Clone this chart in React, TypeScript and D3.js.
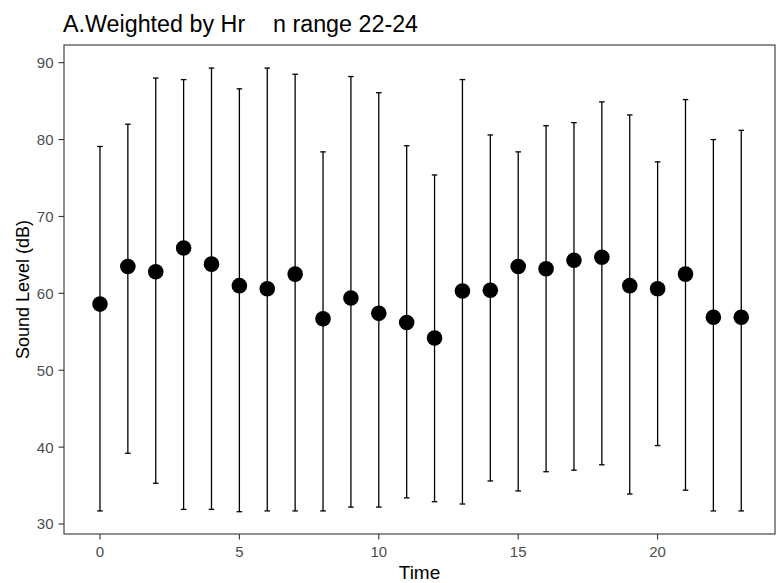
import React from "react";
import * as d3 from "d3";

const hours = [0,1,2,3,4,5,6,7,8,9,10,11,12,13,14,15,16,17,18,19,20,21,22,23];
const means = [58.6,63.5,62.8,65.9,63.8,61.0,60.6,62.5,56.7,59.4,57.4,56.2,54.2,60.3,60.4,63.5,63.2,64.3,64.7,61.0,60.6,62.5,56.9,56.9];
const uppers = [79.1,82.0,88.0,87.8,89.3,86.6,89.3,88.5,78.4,88.2,86.1,79.2,75.4,87.8,80.6,78.4,81.8,82.2,84.9,83.2,77.1,85.2,80.0,81.2];
const lowers = [31.7,39.2,35.3,31.9,31.9,31.6,31.7,31.7,31.7,32.2,32.2,33.4,32.9,32.6,35.6,34.3,36.8,37.0,37.7,33.9,40.2,34.4,31.7,31.7];
const xTicks = [0,5,10,15,20];
const yTicks = [30,40,50,60,70,80,90];

export default function App() {
  const W = 776, H = 583;
  const left = 64, right = 775, top = 45, bottom = 534;
  const x = d3.scaleLinear().domain([-1.29, 24.21]).range([left, right]);
  const y = d3.scaleLinear().domain([28.7, 92.3]).range([bottom, top]);
  const capHalf = x(0.1) - x(0);
  const font = "'Liberation Sans', Arial, sans-serif";
  return (
    <svg width={W} height={H} style={{ position: "absolute", left: 0, top: 0, background: "#fff" }} fontFamily={font}>
      <rect x={0} y={0} width={W} height={H} fill="#fff" />
      <text x={63} y={31.5} fontSize={23.3} fill="#000">A.Weighted by Hr</text>
      <text x={273} y={31.5} fontSize={23.3} fill="#000">n range 22-24</text>
      {hours.map((h, i) => (
        <g key={h} stroke="#000" strokeWidth={1.3}>
          <line x1={x(h)} x2={x(h)} y1={y(uppers[i])} y2={y(lowers[i])} />
          <line x1={x(h) - capHalf} x2={x(h) + capHalf} y1={y(uppers[i])} y2={y(uppers[i])} />
          <line x1={x(h) - capHalf} x2={x(h) + capHalf} y1={y(lowers[i])} y2={y(lowers[i])} />
        </g>
      ))}
      {hours.map((h, i) => (
        <circle key={"p" + h} cx={x(h)} cy={y(means[i])} r={7.8} fill="#000" />
      ))}
      <rect x={left} y={top} width={right - left} height={bottom - top} fill="none" stroke="#333" strokeWidth={1.1} />
      {yTicks.map(t => (
        <g key={"y" + t}>
          <line x1={left - 5.5} x2={left} y1={y(t)} y2={y(t)} stroke="#333" strokeWidth={1.1} />
          <text x={left - 10.5} y={y(t)} dy="0.36em" textAnchor="end" fontSize={15} fill="#4d4d4d">{t}</text>
        </g>
      ))}
      {xTicks.map(t => (
        <g key={"x" + t}>
          <line x1={x(t)} x2={x(t)} y1={bottom} y2={bottom + 5.5} stroke="#333" strokeWidth={1.1} />
          <text x={x(t)} y={557} textAnchor="middle" fontSize={15} fill="#4d4d4d">{t}</text>
        </g>
      ))}
      <text x={(left + right) / 2} y={579} textAnchor="middle" fontSize={19} fill="#000">Time</text>
      <text transform={`translate(28.5,${(top + bottom) / 2}) rotate(-90)`} textAnchor="middle" fontSize={18} fill="#000">Sound Level (dB)</text>
    </svg>
  );
}
